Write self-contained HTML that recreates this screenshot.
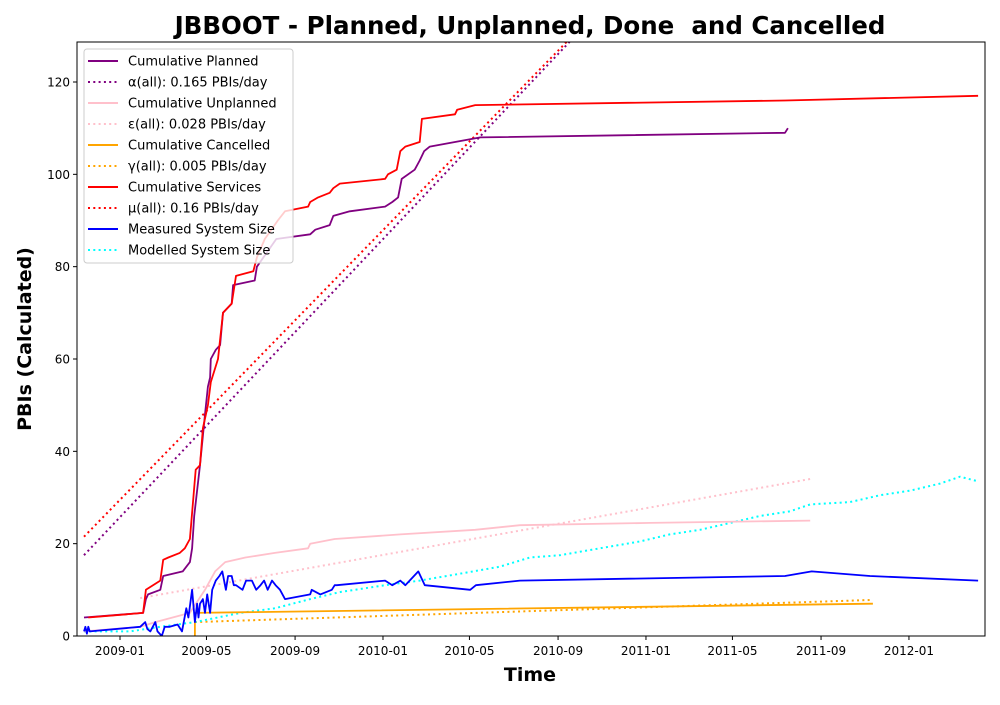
<!DOCTYPE html>
<html><head><meta charset="utf-8"><style>
body{margin:0;background:#fff;}
svg{font-family:"DejaVu Sans","Liberation Sans",sans-serif;}
</style></head><body>
<svg id="chart" width="1000" height="700" xmlns="http://www.w3.org/2000/svg">
<defs><clipPath id="clip"><rect x="77" y="42" width="908" height="594"/></clipPath></defs>
<rect width="1000" height="700" fill="#fff"/>
<text x="530" y="34" text-anchor="middle" font-size="24.5" font-weight="bold">JBBOOT - Planned, Unplanned, Done&#160; and Cancelled</text>
<text x="530" y="681" text-anchor="middle" font-size="19" font-weight="bold">Time</text>
<text transform="translate(31,339) rotate(-90)" text-anchor="middle" font-size="19" font-weight="bold">PBIs (Calculated)</text>
<g id="ticks"></g>
<g id="series" clip-path="url(#clip)"></g>
<rect x="77" y="42" width="908" height="594" fill="none" stroke="#000" stroke-width="1"/>
<g id="legend"></g>
</svg>
<script>
// days since 2009-01-01
const xTickLabels=["2009-01","2009-05","2009-09","2010-01","2010-05","2010-09","2011-01","2011-05","2011-09","2012-01"];
const xTickDays=[0,120,243,365,485,608,730,850,973,1095];
const yTicks=[0,20,40,60,80,100,120];
const planned=[[-50,4],[32,5],[36,8],[39,9],[56,10],[60,13],[87,14],[97,16],[100,19],[103,26],[111,37],[118,48],[122,54],[125,56],[126,60],[133,62],[139,63],[143,70],[155,72],[157,76],[187,77],[190,80],[217,86],[264,87],[271,88],[291,89],[296,91],[319,92],[368,93],[378,94],[386,95],[391,99],[409,101],[416,103],[422,105],[430,106],[465,107],[500,108],[923,109],[927,110]];
const services=[[-44,4],[32,5],[36,10],[56,12],[60,16.5],[67,17],[83,18],[90,19],[97,21],[105,36],[111,37],[115,45],[122,50],[126,55],[136,60],[143,70],[155,72],[161,78],[185,79],[190,82],[201,86],[219,90],[229,92],[261,93],[264,94],[275,95],[291,96],[296,97],[305,98],[368,99],[372,100],[384,101],[389,105],[396,106],[416,107],[419,112],[465,113],[468,114],[493,115],[923,116],[1191,117]];
const unplanned=[[-50,1],[28,2],[49,3],[97,5],[118,10],[132,14],[146,16],[174,17],[215,18],[261,19],[264,20],[298,21],[389,22],[493,23],[555,24],[736,24.5],[958,25]];
const cancelled=[[104,0],[104,5],[1045,7]];
const measured=[[-50,1],[-48,2],[-46,0.5],[-44,2],[-42,1],[28,2],[35,3],[38,1.5],[42,1],[49,3],[52,1],[58,0],[62,2],[69,2],[80,2.5],[86,1],[92,6],[95,4],[100,10],[104,3],[107,7],[109,4],[111,7],[115,8],[118,5],[121,9],[125,5],[128,10],[133,12],[138,13],[142,14],[147,10],[150,13],[155,13],[158,11],[161,11],[170,10],[175,12],[183,12],[189,10],[195,11],[200,12],[205,10],[211,12],[216,11],[222,10],[229,8],[264,9],[266,10],[278,9],[294,10],[298,11],[301,11],[368,12],[378,11],[389,12],[396,11],[414,14],[423,11],[486,10],[494,11],[555,12],[923,13],[960,14],[1041,13],[1191,12]];
const modelled=[[-50,1],[14,1],[56,2],[104,3],[167,5],[215,6],[264,8],[305,9.5],[368,11],[416,12],[472,13.5],[527,15],[569,17],[611,17.5],[666,19],[722,20.5],[763,22],[805,23],[847,24.5],[888,26],[930,27],[958,28.5],[1013,29],[1055,30.5],[1097,31.5],[1138,33],[1166,34.5],[1191,33.5]];
const alphaFit=[[-50,17.5],[700,141.25]];
const muFit=[[-50,21.5],[700,141.5]];
const epsFit=[[28,8.2],[958,34]];
const gammaFit=[[104,3],[1041,7.8]];

const NS="http://www.w3.org/2000/svg";
function X(d){return 120+d*0.7205;}
function Y(v){return 636-v*4.6167;}
function mk(tag,attrs,parent){const e=document.createElementNS(NS,tag);for(const k in attrs)e.setAttribute(k,attrs[k]);parent.appendChild(e);return e;}
const ticks=document.getElementById('ticks');
xTickDays.forEach((d,i)=>{
  const l=mk('line',{x1:X(d),x2:X(d),y1:636,y2:640,stroke:'#000'},ticks);
  
  
  const t=mk('text',{x:X(d),y:655,'text-anchor':'middle','font-size':12},ticks);
  t.textContent=xTickLabels[i];
  
  
});
yTicks.forEach(v=>{
  const l=mk('line',{x1:73,x2:77,y1:Y(v),y2:Y(v),stroke:'#000'},ticks);
  
  
  const t=mk('text',{x:70,y:Y(v)+4.5,'text-anchor':'end','font-size':12},ticks);
  t.textContent=v;
  
  
});
const g=document.getElementById('series');
function line(data,color,dotted,name){
  const p=mk('polyline',{points:data.map(p=>X(p[0]).toFixed(1)+','+Y(p[1]).toFixed(1)).join(' '),fill:'none',stroke:color,'stroke-width':dotted?2:1.8,'stroke-linejoin':'round'},g);
  if(dotted)p.setAttribute('stroke-dasharray','2,3.3');
  
  
}
line(alphaFit,'purple',true,'alpha-fit-line');
line(muFit,'red',true,'mu-fit-line');
line(epsFit,'pink',true,'epsilon-fit-line');
line(gammaFit,'orange',true,'gamma-fit-line');
line(modelled,'cyan',true,'modelled-system-size-line');
line(unplanned,'pink',false,'cumulative-unplanned-line');
line(cancelled,'orange',false,'cumulative-cancelled-line');
line(planned,'purple',false,'cumulative-planned-line');
line(services,'red',false,'cumulative-services-line');
line(measured,'blue',false,'measured-system-size-line');

const legendLabels=["Cumulative Planned","α(all): 0.165 PBIs/day","Cumulative Unplanned","ε(all): 0.028 PBIs/day","Cumulative Cancelled","γ(all): 0.005 PBIs/day","Cumulative Services","μ(all): 0.16 PBIs/day","Measured System Size","Modelled System Size"];
const legendColors=['purple','purple','pink','pink','orange','orange','red','red','blue','cyan'];
const lg=document.getElementById('legend');
const box=mk('rect',{x:84,y:49,width:209,height:214,rx:3,fill:'#fff','fill-opacity':0.8,stroke:'#ccc'},lg);


legendLabels.forEach((s,i)=>{
  const y=61+i*21;
  const l=mk('line',{x1:88,x2:118,y1:y,y2:y,stroke:legendColors[i],'stroke-width':2},lg);
  if(i%2==1)l.setAttribute('stroke-dasharray','2,3.3');
  
  
  const t=mk('text',{x:128,y:y+4.5,'font-size':13},lg);
  t.textContent=s;
  
  
});
</script>
</body></html>
